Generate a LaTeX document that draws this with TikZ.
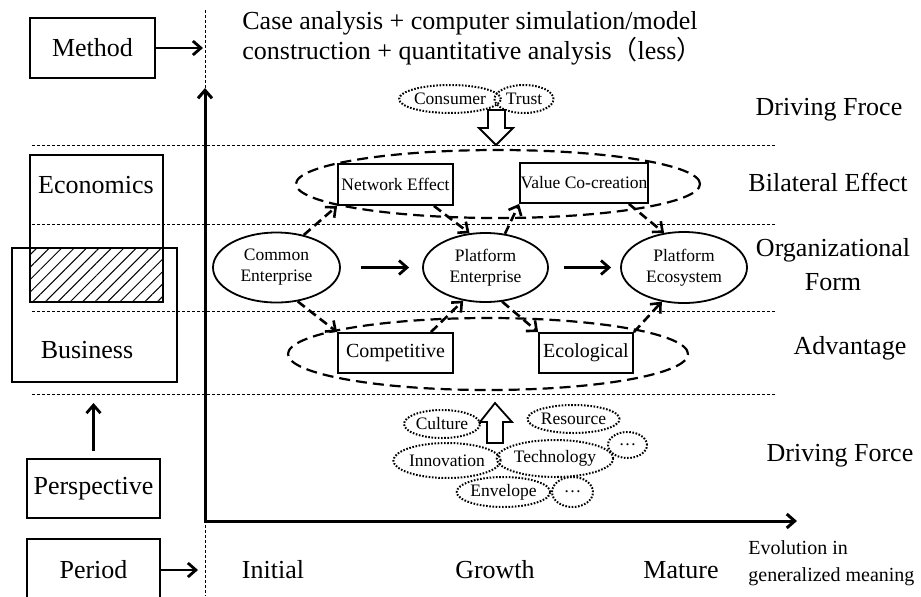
\documentclass[tikz,border=0pt]{standalone}
\usepackage{fontspec}
\setmainfont{Liberation Serif}
\newfontfamily\cjk{Noto Sans CJK SC}
\usetikzlibrary{shapes.geometric, arrows.meta, patterns.meta, positioning}

\tikzset{
	big/.style={font=\fontsize{13}{15.5}\selectfont},
	small/.style={font=\fontsize{8.75}{10.5}\selectfont},
	mid/.style={font=\fontsize{10}{13.5}\selectfont},
	box/.style={draw, line width=0.9pt, inner sep=0pt},
	oval/.style={draw, ellipse, line width=0.9pt, inner sep=0pt, small, align=center},
	bubble/.style={draw, ellipse, line width=1pt, dash pattern=on 0.8pt off 0.8pt, inner sep=0pt, small},
	ring/.style={draw, ellipse, line width=1.1pt, dash pattern=on 5.5pt off 3pt},
	sep/.style={line width=0.5pt, dash pattern=on 1.5pt off 1pt},
	dasharrow/.style={->, line width=1.3pt, dash pattern=on 4.5pt off 2.5pt},
}

\begin{document}
\begin{tikzpicture}[x=0.5pt, y=-0.5pt, >={Straight Barb[length=4pt,width=7pt]}]
		\useasboundingbox (0,0) rectangle (921,596);
		% grid of the diagram
		\draw[sep] (205,10) -- (205,596);
		\foreach \y in {145,224,311,394}
			\draw[sep] (32,\y) -- (775,\y);
		\coordinate (o) at (205,521);
		\coordinate (ytop) at (205,88);
		\coordinate (xend) at (797,521);
		\draw[<->, line width=1.5pt] (ytop) -- (o) -- (xend);

		% left column
		\node[box, big, minimum width=62.5pt, minimum height=30pt](meth) at (92.5,48) {Method};
		\coordinate (mtip) at (203,48);
		\draw[->, line width=1.4pt] (meth.east) -- (mtip);
		\fill[pattern={Lines[angle=45,distance=4.4pt,line width=0.5pt]}] (30,248) rectangle (163,302);
		\draw[line width=0.9pt] (30,155) rectangle (163,302);
		\draw[line width=0.9pt] (12,248) rectangle (177,382);
		\node[big](econ) at (96,185) {Economics};
		\node[big](busi) at (87,350) {Business};
		\node[box, big, minimum width=66.5pt, minimum height=29.5pt](persp) at (93.5,488.5) {Perspective};
		\coordinate (ptip) at (93.5,403);
		\draw[->, line width=1.4pt] ([yshift=3.5pt]persp.north) -- (ptip);
		\node[box, big, minimum width=66.5pt, minimum height=31pt](peri) at (93.5,570) {Period};
		\coordinate (qtip) at (198,570);
		\draw[->, line width=1.4pt] (peri.east) -- (qtip);

		% method text
		\node[big, anchor=west, align=left, inner sep=0pt, font=\fontsize{13}{13.5}\selectfont](mtext) at (242,38.5)
			{Case analysis + computer simulation/model\\construction + quantitative analysis{\cjk （}less{\cjk ）}};

		% driving force, top
		\node[bubble, minimum width=45.5pt, minimum height=14pt](cons) at (450,99) {Consumer};
		\node[bubble, minimum width=29.5pt, minimum height=14pt](trus) at (524,99) {Trust};
		\draw[line width=0.9pt, fill=white] (488,110) -- (505,110) -- (505,128) -- (513,128) -- (496,145) -- (479,128) -- (488,128) -- cycle;

		% bilateral effect
		\node[ring, minimum width=202pt, minimum height=34pt](bil) at (498,184) {};
		\node[box, small, minimum width=57.5pt, minimum height=20.5pt](net) at (395.5,184.5) {Network Effect};
		\node[box, small, minimum width=64pt, minimum height=20pt](val) at (584,183) {Value Co-creation};

		% organizational form
		\node[oval, minimum width=63.5pt, minimum height=35pt](ce) at (276.5,267.5) {Common\\Enterprise};
		\node[oval, minimum width=62.5pt, minimum height=34.5pt](pe) at (485.5,267.5) {Platform\\Enterprise};
		\node[oval, minimum width=63pt, minimum height=35.5pt](eco) at (684,267.5) {Platform\\Ecosystem};
		\draw[->, line width=1.4pt] ([xshift=10pt]ce.east) -- ([xshift=-6.5pt]pe.west);
		\draw[->, line width=1.4pt] ([xshift=7.5pt]pe.east) -- ([xshift=-4.5pt]eco.west);

		% advantage
		\node[ring, minimum width=200pt, minimum height=36pt](adv) at (488,354) {};
		\node[box, mid, minimum width=57.5pt, minimum height=20pt](comp) at (395.5,353) {Competitive};
		\node[box, mid, minimum width=47pt, minimum height=20pt](ecol) at (586,353) {Ecological};

		\draw[dasharrow] (ce.50) -- (net.south west);
		\draw[dasharrow] ([xshift=-10pt]net.south east) -- (pe.115);
		\draw[dasharrow] (pe.60) -- (val.south west);
		\draw[dasharrow] ([xshift=-10pt]val.south east) -- (eco.120);
		\draw[dasharrow] (ce.-58) -- (comp.north west);
		\draw[dasharrow] ([xshift=-11.5pt]comp.north east) -- (pe.236);
		\draw[dasharrow] (pe.-64) -- (ecol.north west);
		\draw[dasharrow] (ecol.north east) -- (eco.237);

		% driving force, bottom
		\node[bubble, minimum width=38pt, minimum height=14pt](cult) at (442,424) {Culture};
		\node[bubble, minimum width=43.5pt, minimum height=14pt](reso) at (573.5,419) {Resource};
		\node[bubble, minimum width=19.5pt, minimum height=13pt](dotsa) at (627.5,445) {\ldots};
		\node[bubble, minimum width=43pt, minimum height=17.5pt](inno) at (447,460.5) {Innovation};
		\node[bubble, minimum width=53pt, minimum height=18.5pt](tech) at (555,458.5) {Technology};
		\node[bubble, minimum width=46.5pt, minimum height=15pt](enve) at (503.5,492) {Envelope};
		\node[bubble, minimum width=20.5pt, minimum height=15pt](dotsb) at (572.5,492) {\ldots};
		\draw[line width=0.9pt, fill=white] (487,443) -- (503,443) -- (503,422) -- (512,422) -- (495,403) -- (480,422) -- (487,422) -- cycle;

		% right column
		\node[big](dfa) at (829,110) {Driving Froce};
		\node[big](bile) at (828,182) {Bilateral Effect};
		\node[big, align=center, font=\fontsize{13}{17}\selectfont](orgf) at (833,265) {Organizational\\Form};
		\node[big](adva) at (850,348) {Advantage};
		\node[big](dfb) at (840,456) {Driving Force};

		% bottom row
		\node[big](init) at (273,570) {Initial};
		\node[big](grow) at (495,570) {Growth};
		\node[big](matu) at (681,570) {Mature};
		\node[mid, anchor=west, align=left, inner sep=0pt](evol) at (748,563.5) {Evolution in\\generalized meaning};
	\end{tikzpicture}
\end{document}
